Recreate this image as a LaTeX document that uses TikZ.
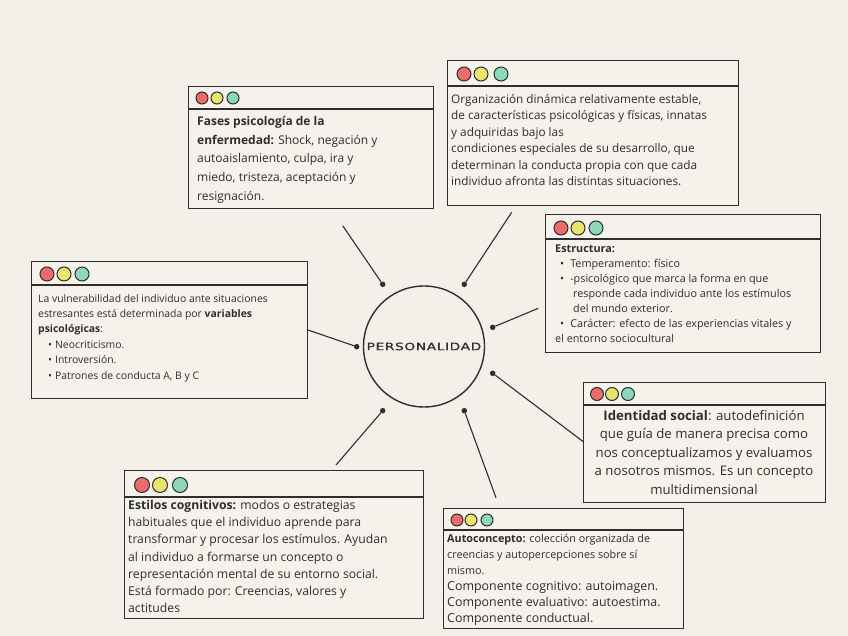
\documentclass[tikz,border=0pt]{standalone}
\usepackage{fontspec}
\setmainfont{Open Sans}
\newfontfamily\widefont[FakeStretch=1.35,LetterSpace=6,FakeBold=0.6]{DejaVu Sans}
\definecolor{paper}{HTML}{F3F0EA}
\definecolor{card}{HTML}{F5F2EC}
\definecolor{ink}{HTML}{2E2E2E}
\definecolor{btnred}{HTML}{EE6B6B}
\definecolor{btnyellow}{HTML}{E9E46B}
\definecolor{btngreen}{HTML}{8FD6BE}

\begin{document}
\begin{tikzpicture}[x=1pt,y=-1pt,
  card/.style={draw=ink,line width=1.4pt,fill=card,rectangle,anchor=north west,inner sep=0},
  btn/.style={draw=ink,line width=1pt,circle,inner sep=0},
  joint/.style={fill=ink,circle,inner sep=0,minimum size=5.5pt},
  txt/.style={anchor=north west,inner sep=0,align=left,text=ink},
  bar/.style={draw=ink,line width=1.4pt},
  link/.style={draw=ink,line width=1.1pt}]
\fill[paper] (0,0) rectangle (848,636);
\useasboundingbox (0,0) rectangle (848,636);

% centre
\node[draw=ink,circle,line width=1.4pt,minimum size=121pt,inner sep=0] (personalidad) at (424,346.5) {};
\node[text=ink,font=\widefont\fontsize{10.2}{12}\selectfont] (titulo) at (424,346.5) {PERSONALIDAD};

\node[joint] (j1) at (382.7,284.3) {};
\node[joint] (j2) at (464.3,284.3) {};
\node[joint] (j3) at (492.7,327.3) {};
\node[joint] (j4) at (492.7,373.3) {};
\node[joint] (j5) at (356.7,346.7) {};
\node[joint] (j6) at (382.7,410.7) {};
\node[joint] (j7) at (464.3,410.7) {};

\coordinate (c1) at (342.7,225.7);
\coordinate (c2) at (511.7,212.3);
\coordinate (c3) at (538.3,308.3);
\coordinate (c4) at (583.3,441.7);
\coordinate (c5) at (308,330);
\coordinate (c6) at (336,465);
\coordinate (c7) at (496,497.7);

\path[link] (j1) -- (c1);
\path[link] (j2) -- (c2);
\path[link] (j3) -- (c3);
\path[link] (j4) -- (c4);
\path[link] (j5) -- (c5);
\path[link] (j6) -- (c6);
\path[link] (j7) -- (c7);

% fases
\node[card,minimum width=245pt,minimum height=122pt] (fases) at (188,86) {};
\path[bar] ([yshift=-23pt]fases.north west) -- ([yshift=-23pt]fases.north east);
\node[btn,fill=btnred,minimum size=12pt] at ([xshift=14pt,yshift=-12pt]fases.north west) {};
\node[btn,fill=btnyellow,minimum size=12pt] at ([xshift=29pt,yshift=-12pt]fases.north west) {};
\node[btn,fill=btngreen,minimum size=12pt] at ([xshift=45pt,yshift=-12pt]fases.north west) {};
\node[txt,font=\fontsize{12}{18.7}\selectfont] (fasestxt) at (197,116) {\textbf{Fases psicología de la}\\
\textbf{enfermedad:} Shock, negación y\\
autoaislamiento, culpa, ira y\\
miedo, tristeza, aceptación y\\
resignación.};

% organizacion
\node[card,minimum width=291pt,minimum height=145pt] (organizacion) at (447,60) {};
\path[bar] ([yshift=-26pt]organizacion.north west) -- ([yshift=-26pt]organizacion.north east);
\node[btn,fill=btnred,minimum size=14pt] at ([xshift=17pt,yshift=-14pt]organizacion.north west) {};
\node[btn,fill=btnyellow,minimum size=14pt] at ([xshift=34pt,yshift=-14pt]organizacion.north west) {};
\node[btn,fill=btngreen,minimum size=14pt] at ([xshift=54pt,yshift=-14pt]organizacion.north west) {};
\node[txt,font=\fontsize{11.8}{16.5}\selectfont] (organizaciontxt) at (451,94) {Organización dinámica relativamente estable,\\
de características psicológicas y físicas, innatas\\
y adquiridas bajo las\\
condiciones especiales de su desarrollo, que\\
determinan la conducta propia con que cada\\
individuo afronta las distintas situaciones.};

% estructura
\node[card,minimum width=275pt,minimum height=138pt] (estructura) at (545,214) {};
\path[bar] ([yshift=-25pt]estructura.north west) -- ([yshift=-25pt]estructura.north east);
\node[btn,fill=btnred,minimum size=14pt] at ([xshift=16pt,yshift=-14pt]estructura.north west) {};
\node[btn,fill=btnyellow,minimum size=14pt] at ([xshift=33pt,yshift=-14pt]estructura.north west) {};
\node[btn,fill=btngreen,minimum size=14pt] at ([xshift=51pt,yshift=-14pt]estructura.north west) {};
\node[txt,font=\fontsize{10.8}{15}\selectfont] (estructuratxt) at (555,244.5) {\textbf{Estructura:}\\
\hspace*{5pt}\textbullet\hspace{6pt}Temperamento: físico\\
\hspace*{5pt}\textbullet\hspace{6pt}-psicológico que marca la forma en que\\
\hspace*{18pt}responde cada individuo ante los estímulos\\
\hspace*{18pt}del mundo exterior.\\
\hspace*{5pt}\textbullet\hspace{6pt}Carácter: efecto de las experiencias vitales y\\
el entorno sociocultural};

% vulnerabilidad
\node[card,minimum width=276pt,minimum height=137pt] (vulnerabilidad) at (31,261) {};
\path[bar] ([yshift=-24pt]vulnerabilidad.north west) -- ([yshift=-24pt]vulnerabilidad.north east);
\node[btn,fill=btnred,minimum size=14pt] at ([xshift=16pt,yshift=-13pt]vulnerabilidad.north west) {};
\node[btn,fill=btnyellow,minimum size=14pt] at ([xshift=33pt,yshift=-13pt]vulnerabilidad.north west) {};
\node[btn,fill=btngreen,minimum size=14pt] at ([xshift=51pt,yshift=-13pt]vulnerabilidad.north west) {};
\node[txt,font=\fontsize{10.4}{15.4}\selectfont] (vulnerabilidadtxt) at (38,294) {La vulnerabilidad del individuo ante situaciones\\
estresantes está determinada por \textbf{variables}\\
\textbf{psicológicas}:\\
\hspace*{10pt}\textbullet\hspace{3pt}Neocriticismo.\\
\hspace*{10pt}\textbullet\hspace{3pt}Introversión.\\
\hspace*{10pt}\textbullet\hspace{3pt}Patrones de conducta A, B y C};

% identidad
\node[card,minimum width=242pt,minimum height=120pt] (identidad) at (583,382) {};
\path[bar] ([yshift=-23pt]identidad.north west) -- ([yshift=-23pt]identidad.north east);
\node[btn,fill=btnred,minimum size=13pt] at ([xshift=14pt,yshift=-12pt]identidad.north west) {};
\node[btn,fill=btnyellow,minimum size=13pt] at ([xshift=29pt,yshift=-12pt]identidad.north west) {};
\node[btn,fill=btngreen,minimum size=13pt] at ([xshift=45pt,yshift=-12pt]identidad.north west) {};
\node[txt,anchor=north,align=center,font=\fontsize{13.2}{18.5}\selectfont] (identidadtxt) at (704,410) {\textbf{Identidad social}: autodefinición\\
que guía de manera precisa como\\
nos conceptualizamos y evaluamos\\
a nosotros mismos. Es un concepto\\
multidimensional};

% estilos
\node[card,minimum width=299pt,minimum height=148pt] (estilos) at (124,470) {};
\path[bar] ([yshift=-27pt]estilos.north west) -- ([yshift=-27pt]estilos.north east);
\node[btn,fill=btnred,minimum size=15pt] at ([xshift=18pt,yshift=-15pt]estilos.north west) {};
\node[btn,fill=btnyellow,minimum size=15pt] at ([xshift=36pt,yshift=-15pt]estilos.north west) {};
\node[btn,fill=btngreen,minimum size=15pt] at ([xshift=56pt,yshift=-15pt]estilos.north west) {};
\node[txt,font=\fontsize{12.2}{17.2}\selectfont] (estilostxt) at (128,500) {\textbf{Estilos cognitivos:} modos o estrategias\\
habituales que el individuo aprende para\\
transformar y procesar los estímulos. Ayudan\\
al individuo a formarse un concepto o\\
representación mental de su entorno social.\\
Está formado por: Creencias, valores y\\
actitudes};

% autoconcepto
\node[card,minimum width=240pt,minimum height=120pt] (autoconcepto) at (443,508) {};
\path[bar] ([yshift=-22pt]autoconcepto.north west) -- ([yshift=-22pt]autoconcepto.north east);
\node[btn,fill=btnred,minimum size=12pt] at ([xshift=14pt,yshift=-12pt]autoconcepto.north west) {};
\node[btn,fill=btnyellow,minimum size=12pt] at ([xshift=28pt,yshift=-12pt]autoconcepto.north west) {};
\node[btn,fill=btngreen,minimum size=12pt] at ([xshift=44pt,yshift=-12pt]autoconcepto.north west) {};
\node[txt,font=\fontsize{12.4}{15.8}\selectfont] (autoconceptotxt) at (447,534) {{\fontsize{10.8}{15.8}\selectfont\textbf{Autoconcepto:} colección organizada de}\\
{\fontsize{10.8}{15.8}\selectfont creencias y autopercepciones sobre sí}\\
{\fontsize{10.8}{15.8}\selectfont mismo.}\\[1pt]
Componente cognitivo: autoimagen.\\
Componente evaluativo: autoestima.\\
Componente conductual.};
\end{tikzpicture}
\end{document}
